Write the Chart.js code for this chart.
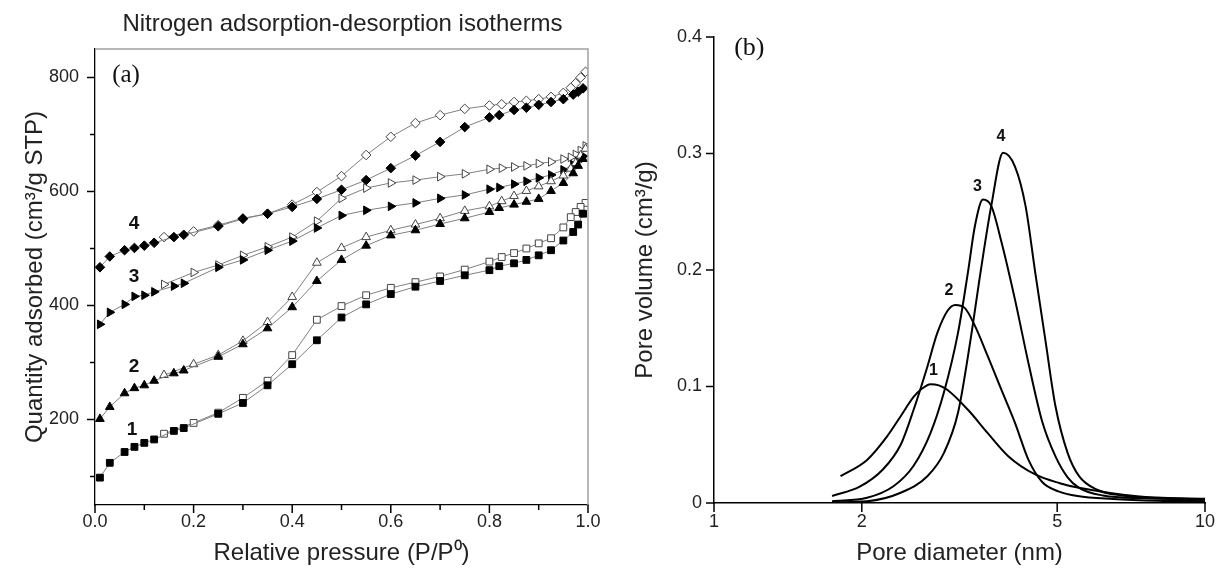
<!DOCTYPE html>
<html>
<head>
<meta charset="utf-8">
<script src="https://cdn.jsdelivr.net/npm/chart.js@4.4.1/dist/chart.umd.min.js"></script>
<style>
  body { margin: 0; background: #fff; }
  #wrap { position: relative; width: 1216px; height: 570px; }
  canvas { position: absolute; top: 0; }
</style>
</head>
<body>
<div id="wrap">
  <canvas id="isoChart" width="600" height="570" style="left:0"></canvas>
  <canvas id="poreChart" width="616" height="570" style="left:600px"></canvas>
</div>
<script>
// ---- (a) isotherms: relative pressure points
const adsP = [0.01, 0.03, 0.06, 0.08, 0.10, 0.12, 0.16, 0.18, 0.25, 0.30, 0.35, 0.40, 0.45, 0.50, 0.55, 0.60, 0.65, 0.70, 0.75, 0.80, 0.82, 0.85, 0.875, 0.90, 0.925, 0.95, 0.97, 0.98, 0.99];
const desP = [0.995, 0.985, 0.975, 0.965, 0.95, 0.925, 0.90, 0.875, 0.85, 0.825, 0.80, 0.75, 0.70, 0.65, 0.60, 0.55, 0.50, 0.45, 0.40, 0.35, 0.30, 0.25, 0.20, 0.14];

// quantity adsorbed (cm3/g STP), adsorption (filled) and desorption (open)
const ads1 = [98, 124, 143, 152, 159, 165, 180, 185, 210, 229, 260, 297, 339, 379, 402, 420, 433, 443, 453, 462, 469, 474, 480, 488, 497, 514, 529, 542, 561];
const des1 = [580, 573, 564, 555, 537, 518, 509, 500, 492, 485, 477, 463, 451, 441, 431, 418, 399, 375, 313, 268, 238, 212, 194, 175];
const ads2 = [201, 222, 246, 255, 260, 268, 281, 286, 310, 332, 360, 397, 443, 480, 505, 523, 532, 543, 553, 564, 571, 577, 582, 587, 601, 615, 632, 645, 657];
const des2 = [675, 663, 650, 640, 628, 618, 609, 601, 592, 583, 574, 566, 553, 542, 532, 520, 501, 475, 415, 371, 338, 313, 297, 278];
const ads3 = [367, 388, 402, 416, 418, 424, 434, 439, 467, 480, 497, 513, 536, 558, 567, 574, 580, 588, 594, 604, 607, 613, 618, 624, 629, 638, 647, 653, 662];
const des3 = [680, 672, 665, 660, 657, 652, 649, 645, 643, 641, 639, 631, 626, 620, 615, 606, 588, 548, 520, 503, 488, 471, 458, 437];
const ads4 = [467, 486, 497, 501, 505, 510, 520, 524, 539, 552, 561, 573, 587, 603, 620, 641, 663, 687, 713, 730, 734, 743, 747, 752, 757, 762, 770, 775, 781];
const des4 = [810, 800, 790, 782, 773, 766, 762, 759, 757, 753, 751, 745, 734, 720, 696, 664, 627, 599, 577, 561, 553, 541, 530, 520];

const xTicksA = [0, 0.2, 0.4, 0.6, 0.8, 1.0];
const xMinorA = [0.1, 0.3, 0.5, 0.7, 0.9];
const yTicksA = [200, 400, 600, 800];
const yMinorA = [100, 300, 500, 700];

// ---- (b) pore size distribution: diameter (nm) and pore volume (cm3/g)
const d1 = [1.81, 2.05, 2.25, 2.40, 2.55, 2.65, 2.76, 2.87, 2.99, 3.29, 3.61, 3.98, 4.51, 5.06, 5.54, 7.27, 10];
const pv1 = [0.023, 0.037, 0.057, 0.0745, 0.091, 0.098, 0.102, 0.101, 0.097, 0.080, 0.060, 0.040, 0.0245, 0.017, 0.013, 0.0058, 0.0036];
const d2 = [1.74, 1.98, 2.21, 2.40, 2.55, 2.72, 2.85, 2.99, 3.10, 3.24, 3.40, 3.61, 3.85, 4.10, 4.37, 4.66, 5.03, 5.5, 6.5, 8, 10];
const pv2 = [0.006, 0.014, 0.029, 0.050, 0.080, 0.117, 0.146, 0.165, 0.170, 0.1675, 0.152, 0.126, 0.097, 0.069, 0.037, 0.018, 0.010, 0.006, 0.0035, 0.002, 0.0015];
const d3 = [1.74, 2.05, 2.32, 2.55, 2.76, 2.94, 3.14, 3.29, 3.40, 3.53, 3.67, 3.85, 4.10, 4.37, 4.66, 4.96, 5.25, 5.54, 6.2, 7.5, 10];
const pv3 = [0.0015, 0.0045, 0.0144, 0.032, 0.060, 0.095, 0.146, 0.198, 0.238, 0.2605, 0.255, 0.224, 0.175, 0.120, 0.070, 0.040, 0.022, 0.013, 0.0064, 0.004, 0.003];
const d4 = [1.74, 2.05, 2.40, 2.72, 2.94, 3.14, 3.33, 3.49, 3.67, 3.88, 4.10, 4.31, 4.51, 4.73, 4.96, 5.25, 5.54, 6.01, 6.79, 8, 10];
const pv4 = [0.0006, 0.0015, 0.0088, 0.023, 0.043, 0.0774, 0.140, 0.198, 0.255, 0.3006, 0.289, 0.255, 0.198, 0.140, 0.083, 0.043, 0.023, 0.0116, 0.0064, 0.004, 0.003];

const xTicksB = [1, 2, 5, 10];
const yTicksB = [0, 0.1, 0.2, 0.3, 0.4];

const FONT = 'Liberation Sans, Arial, Helvetica, sans-serif';
const SERIF = 'Liberation Serif, Times New Roman, serif';

// tick marks drawn outward, major and minor of different length
function makeTickMarks(list) {
  return {
    id: 'tickMarks',
    afterDraw(chart) {
      const ctx = chart.ctx;
      const area = chart.chartArea;
      ctx.save();
      ctx.strokeStyle = '#000';
      ctx.lineWidth = 1.5;
      list.forEach(t => {
        const s = chart.scales[t.axis];
        t.values.forEach(v => {
          const p = s.getPixelForValue(v);
          ctx.beginPath();
          if (t.axis === 'x') { ctx.moveTo(p, area.bottom); ctx.lineTo(p, area.bottom + t.len); }
          else { ctx.moveTo(area.left, p); ctx.lineTo(area.left - t.len, p); }
          ctx.stroke();
        });
      });
      ctx.restore();
    }
  };
}

// text notes placed in data coordinates
const notes = {
  id: 'notes',
  afterDraw(chart, args, opts) {
    const ctx = chart.ctx;
    ctx.save();
    ctx.fillStyle = '#111';
    ctx.textAlign = 'center';
    ctx.textBaseline = 'middle';
    (opts.items || []).forEach(n => {
      ctx.font = n.font;
      ctx.fillText(n.text, chart.scales.x.getPixelForValue(n.x), chart.scales.y.getPixelForValue(n.y));
    });
    if (opts.title) {
      ctx.font = opts.title.font;
      ctx.fillStyle = '#222';
      const a = chart.chartArea;
      ctx.fillText(opts.title.text, (a.left + a.right) / 2 + 1, opts.title.y);
    }
    if (opts.frame) {
      const a = chart.chartArea;
      ctx.strokeStyle = opts.frame;
      ctx.lineWidth = 1.5;
      ctx.beginPath();
      ctx.moveTo(a.left, a.top);
      ctx.lineTo(a.right, a.top);
      ctx.lineTo(a.right, a.bottom);
      ctx.stroke();
    }
    ctx.restore();
  }
};

function pairs(xs, ys) {
  return xs.map((x, i) => ({ x: x, y: ys[i] }));
}

function isoSet(xs, ys, style, radius, rot, filled) {
  return {
    data: pairs(xs, ys),
    borderColor: '#808080',
    borderWidth: 1,
    pointStyle: style,
    pointRotation: rot,
    pointRadius: radius,
    pointBackgroundColor: filled ? '#000' : '#fff',
    pointBorderColor: filled ? '#000' : '#444',
    pointBorderWidth: 1,
    tension: 0,
    fill: false
  };
}

const isoSeries = [
  [ads1, des1, 'rect', 4.8, 0],
  [ads2, des2, 'triangle', 5, 0],
  [ads3, des3, 'triangle', 5, 90],
  [ads4, des4, 'rectRot', 4.8, 0]
];
const isoDatasets = [];
isoSeries.forEach(s => {
  isoDatasets.push(isoSet(adsP, s[0], s[2], s[3], s[4], true));
  isoDatasets.push(isoSet(desP, s[1], s[2], s[3], s[4], false));
});

new Chart(document.getElementById('isoChart'), {
  type: 'line',
  data: { datasets: isoDatasets },
  plugins: [makeTickMarks([
    { axis: 'x', values: xTicksA, len: 8 },
    { axis: 'x', values: xMinorA, len: 5 },
    { axis: 'y', values: yTicksA, len: 8 },
    { axis: 'y', values: yMinorA, len: 5 }
  ]), notes],
  options: {
    responsive: false,
    animation: false,
    devicePixelRatio: 1,
    layout: { padding: { left: 0, right: 12, top: 49, bottom: 0 } },
    plugins: {
      legend: { display: false },
      tooltip: { enabled: false },
      notes: {
        title: { text: 'Nitrogen adsorption-desorption isotherms', y: 24, font: '24px ' + FONT },
        frame: '#a0a0a0',
        items: [
          { text: '(a)', x: 0.063, y: 804, font: '25px ' + SERIF },
          { text: '4', x: 0.079, y: 543, font: 'bold 19px ' + FONT },
          { text: '3', x: 0.079, y: 450, font: 'bold 19px ' + FONT },
          { text: '2', x: 0.079, y: 292, font: 'bold 19px ' + FONT },
          { text: '1', x: 0.075, y: 182, font: 'bold 19px ' + FONT }
        ]
      }
    },
    scales: {
      x: {
        type: 'linear', min: 0, max: 1,
        afterBuildTicks: s => { s.ticks = xTicksA.map(v => ({ value: v })); },
        afterFit: s => { s.height = 65; s.paddingLeft = 0; s.paddingRight = 0; },
        grid: { display: false, drawTicks: false },
        border: { display: true, color: '#000', width: 1.3 },
        ticks: { padding: 6, maxRotation: 0, autoSkip: false, color: '#222',
                 font: { family: FONT, size: 18 }, callback: v => v.toFixed(1) },
        title: { display: true, text: 'Relative pressure (P/P⁰)', color: '#222',
                 font: { family: FONT, size: 24 }, padding: { top: 0, bottom: 2 } }
      },
      y: {
        type: 'linear', min: 50, max: 850,
        afterBuildTicks: s => { s.ticks = yTicksA.map(v => ({ value: v })); },
        afterFit: s => { s.width = 95; },
        grid: { display: false, drawTicks: false },
        border: { display: true, color: '#000', width: 1.3 },
        ticks: { padding: 16, color: '#222', font: { family: FONT, size: 18 } },
        title: { display: true, text: 'Quantity adsorbed (cm³/g STP)', color: '#222',
                 font: { family: FONT, size: 24 }, padding: { top: 21, bottom: 0 } }
      }
    }
  }
});

function poreSet(xs, ys) {
  return {
    data: pairs(xs, ys),
    borderColor: '#000',
    borderWidth: 2,
    pointRadius: 0,
    cubicInterpolationMode: 'monotone',
    fill: false
  };
}

new Chart(document.getElementById('poreChart'), {
  type: 'line',
  data: { datasets: [poreSet(d1, pv1), poreSet(d2, pv2), poreSet(d3, pv3), poreSet(d4, pv4)] },
  plugins: [makeTickMarks([
    { axis: 'x', values: xTicksB, len: 9 },
    { axis: 'y', values: yTicksB, len: 8 }
  ]), notes],
  options: {
    responsive: false,
    animation: false,
    devicePixelRatio: 1,
    layout: { padding: { left: 0, right: 11, top: 37, bottom: 0 } },
    plugins: {
      legend: { display: false },
      tooltip: { enabled: false },
      notes: {
        items: [
          { text: '(b)', x: 1.18, y: 0.390, font: '26px ' + SERIF },
          { text: '4', x: 3.84, y: 0.3146, font: 'bold 16px ' + FONT },
          { text: '3', x: 3.44, y: 0.2717, font: 'bold 16px ' + FONT },
          { text: '2', x: 3.01, y: 0.1824, font: 'bold 16px ' + FONT },
          { text: '1', x: 2.80, y: 0.1137, font: 'bold 16px ' + FONT }
        ]
      }
    },
    scales: {
      x: {
        type: 'logarithmic', min: 1, max: 10,
        afterBuildTicks: s => { s.ticks = xTicksB.map(v => ({ value: v })); },
        afterFit: s => { s.height = 67; s.paddingLeft = 0; s.paddingRight = 0; },
        grid: { display: false, drawTicks: false },
        border: { display: true, color: '#000', width: 1.5 },
        ticks: { padding: 8, maxRotation: 0, autoSkip: false, color: '#222',
                 font: { family: FONT, size: 18 }, callback: v => String(v) },
        title: { display: true, text: 'Pore diameter (nm)', color: '#222',
                 font: { family: FONT, size: 24 }, padding: { top: 0, bottom: 2 } }
      },
      y: {
        type: 'linear', min: 0, max: 0.4,
        afterBuildTicks: s => { s.ticks = yTicksB.map(v => ({ value: v })); },
        afterFit: s => { s.width = 114; },
        grid: { display: false, drawTicks: false },
        border: { display: true, color: '#000', width: 1.5 },
        ticks: { padding: 12, color: '#222', font: { family: FONT, size: 18 },
                 callback: v => (v === 0 ? '0' : v.toFixed(1)) },
        title: { display: true, text: 'Pore volume (cm³/g)', color: '#222',
                 font: { family: FONT, size: 24 }, padding: { top: 31, bottom: 0 } }
      }
    }
  }
});
</script>
</body>
</html>
